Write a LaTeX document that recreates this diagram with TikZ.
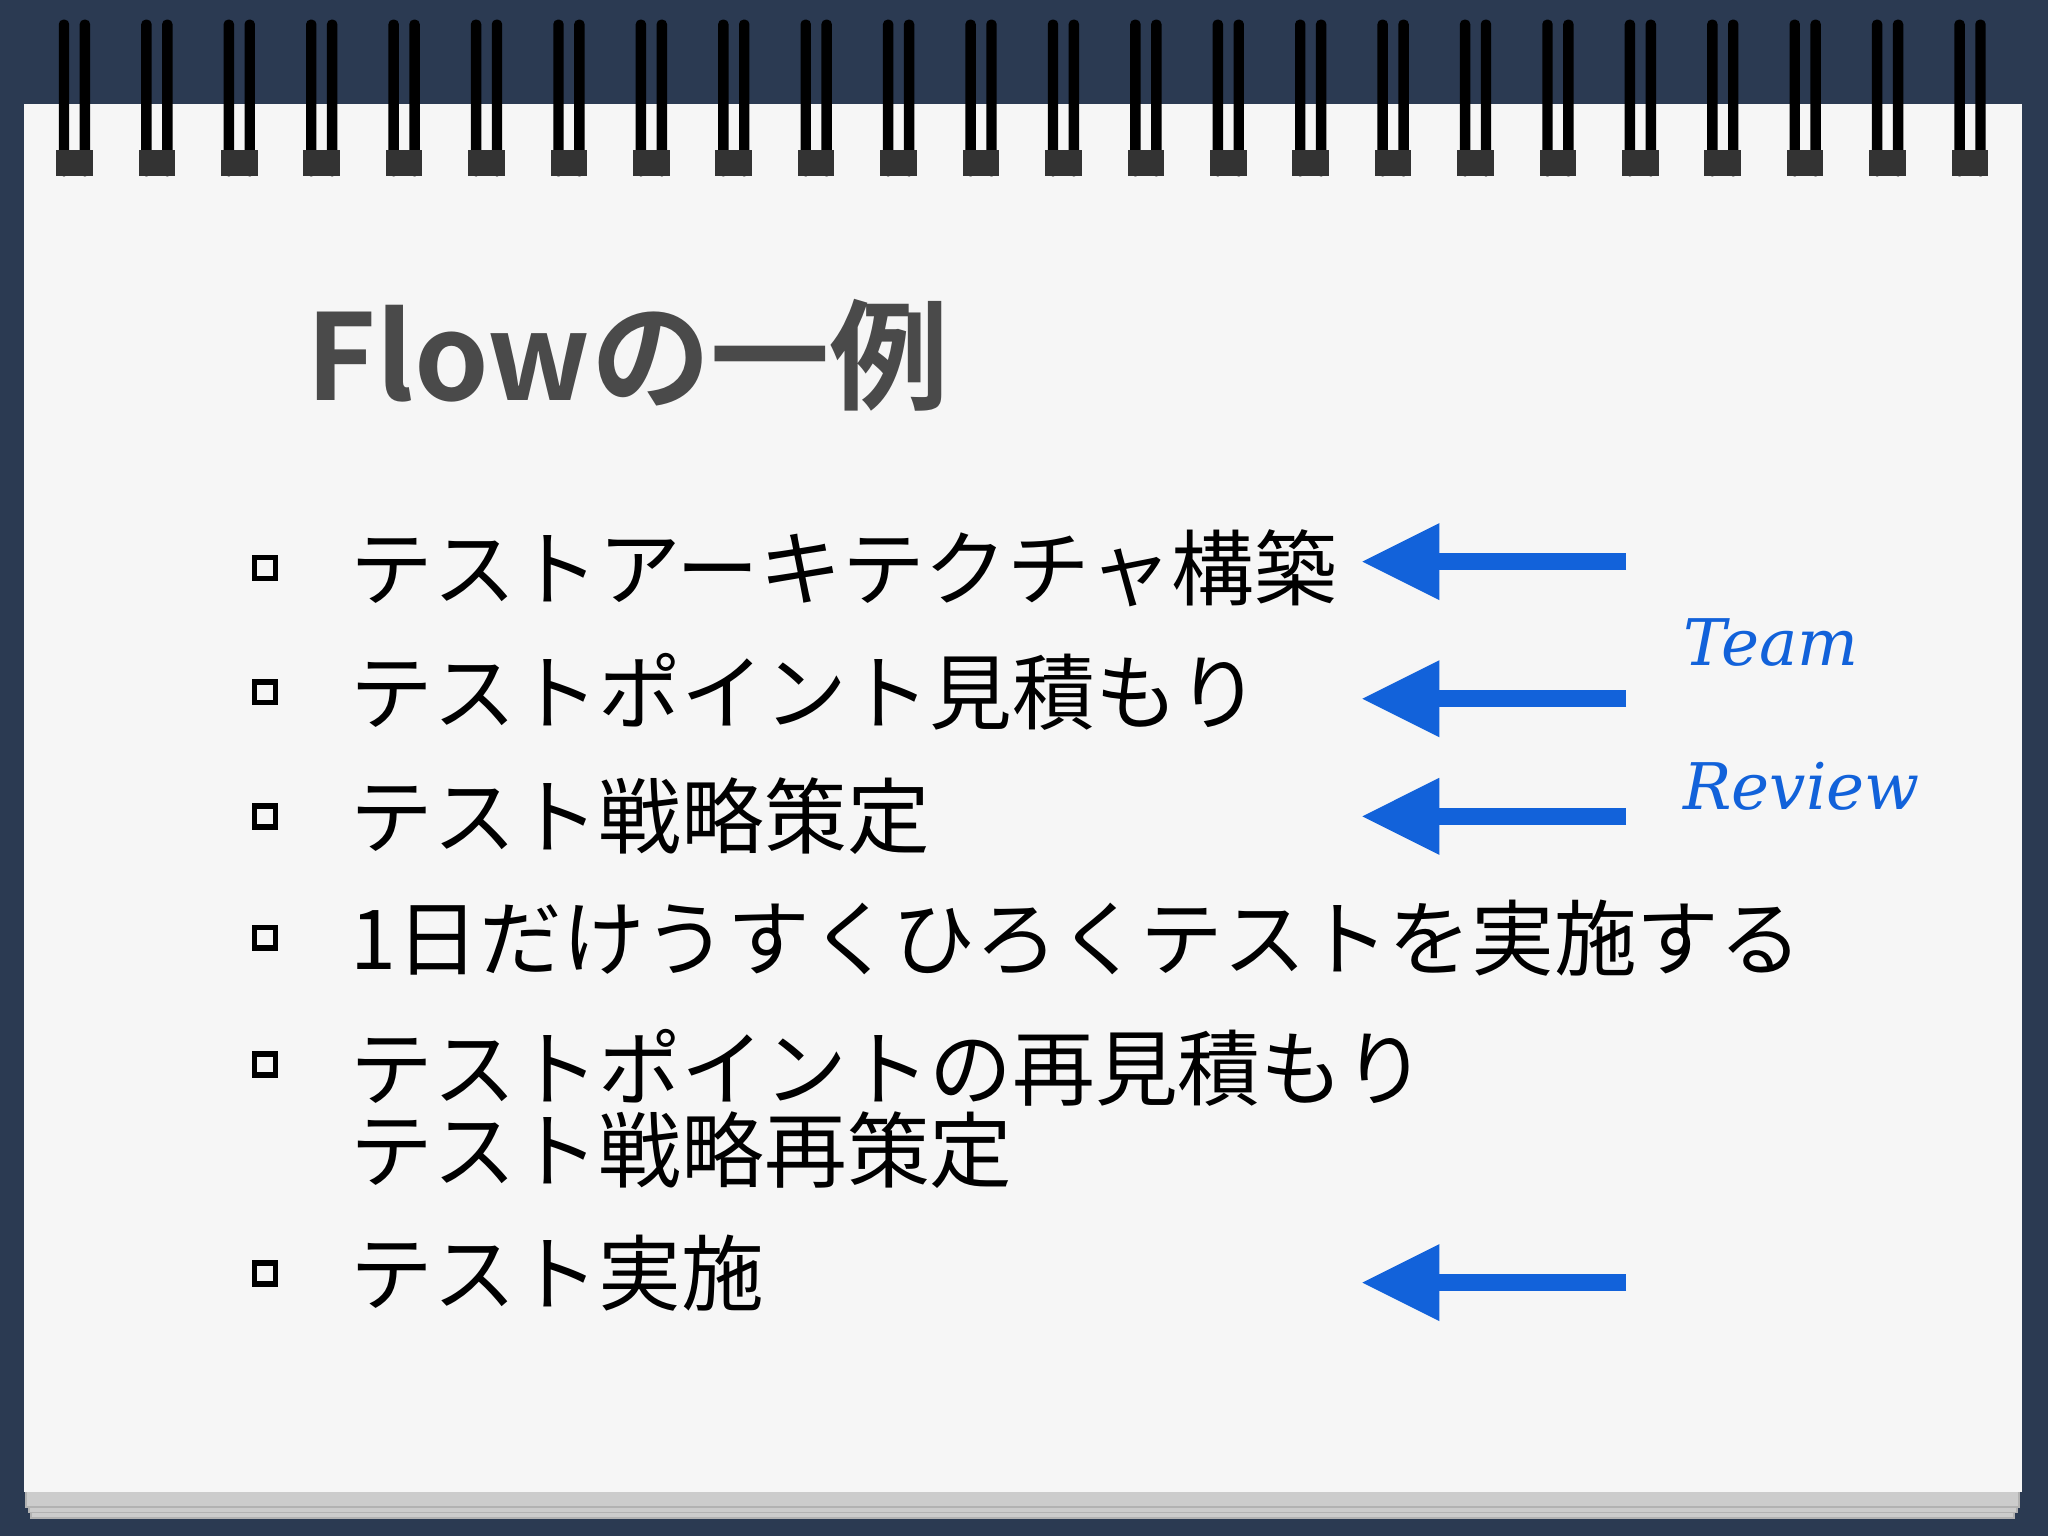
\documentclass[tikz,border=0pt]{standalone}
\usepackage{fontspec}
\usetikzlibrary{arrows.meta}
\setmainfont{Noto Sans CJK JP}
\newfontfamily\jpbold{Noto Sans CJK JP Bold}
\newfontfamily\hand{DejaVu Serif}
\definecolor{bg}{HTML}{2B3A52}
\definecolor{paper}{HTML}{F6F6F6}
\definecolor{arr}{HTML}{1262DA}
\definecolor{ttl}{HTML}{4A4A4A}
\tikzset{
 item/.style={anchor=west,font=\fontsize{18}{18}\selectfont,inner sep=0pt,align=left},
 bul/.style={draw=black,line width=1.2pt,minimum size=0.16cm,inner sep=0pt},
 blue arrow/.style={draw=arr,line width=0.13cm,-{Triangle[length=0.6cm,width=0.55cm]}},
 lbl/.style={text=arr,font=\hand\itshape\fontsize{14}{16}\selectfont,anchor=west,inner sep=0pt},
 ring/.style={fill=black,rounded corners=1pt}
}
\begin{document}
\begin{tikzpicture}[x=0.01cm,y=-0.01cm]
\fill[bg] (0,0) rectangle (1568,1176);
\useasboundingbox (0,0) rectangle (1568,1176);
\foreach \d in {12,8,4}{\fill[gray!40,draw=gray!60] (18+\d/2,80+\d) rectangle (1548-\d/2,1150+\d);}
\fill[paper] (18,80) rectangle (1548,1142);
\foreach \i in {0,...,23}{
 \pgfmathsetmacro\xx{58+\i*63.1}
 \fill[ring] (\xx-13,15) rectangle (\xx-5,135);
 \fill[ring] (\xx+3,15) rectangle (\xx+11,135);
 \fill[black!80] (\xx-15,115) rectangle (\xx+13,135);
}
\node[anchor=west,inner sep=0pt,text=ttl,font=\jpbold\fontsize{26}{30}\selectfont] (title) at (234,272) {Flowの一例};
\foreach \n/\y in {b1/435,b2/530,b3/625,b4/718,b5/815,b6/975}{\node[bul] (\n) at (203,\y) {};}
\node[item] (t1) at (268,435) {テストアーキテクチャ構築};
\node[item] (t2) at (268,530) {テストポイント見積もり};
\node[item] (t3) at (268,625) {テスト戦略策定};
\node[item] (t4) at (268,718) {1日だけうすくひろくテストを実施する};
\node[item,anchor=north west] (t5) at (268,787) {テストポイントの再見積もり\\テスト戦略再策定};
\node[item] (t6) at (268,975) {テスト実施};
\foreach \n/\y in {a1/430,a2/535,a3/625,a4/982}{
 \coordinate (\n s) at (1245,\y); \coordinate (\n e) at (1042,\y);
 \draw[blue arrow] (\n s) -- (\n e);}
\node[lbl] (team) at (1288,492) {Team};
\node[lbl] (rev) at (1288,602) {Review};
\end{tikzpicture}
\end{document}
